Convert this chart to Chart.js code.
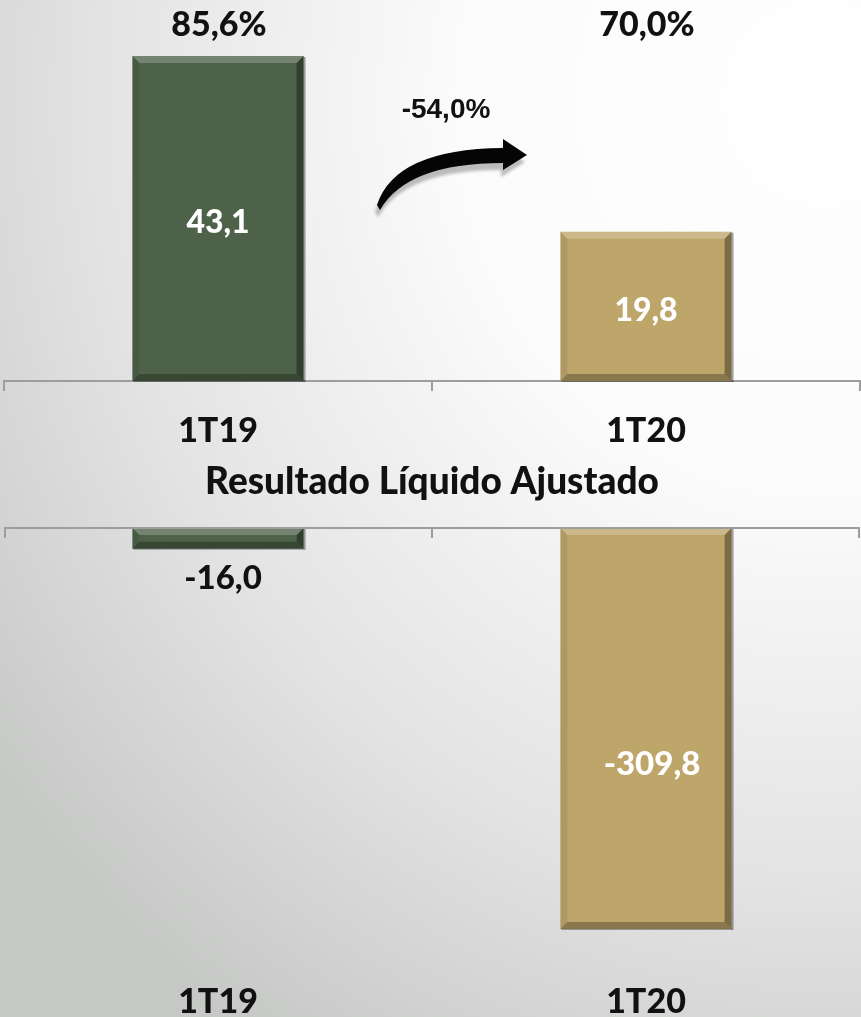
<!DOCTYPE html>
<html>
<head>
<meta charset="utf-8">
<script src="https://cdn.jsdelivr.net/npm/chart.js@4.4.0/dist/chart.umd.min.js"></script>
<style>
  html, body { margin: 0; padding: 0; }
  body {
    width: 861px; height: 1017px; overflow: hidden; position: relative;
    background: radial-gradient(ellipse 120% 110% at 95% 10%, #ffffff 0%, #fbfbfb 35%, #e2e3e2 70%, #c6c8c6 100%);
  }
  .panel { position: absolute; left: 0; width: 861px; }
  #top-wrap { top: 0; height: 505px; }
  #bottom-wrap { top: 505px; height: 512px; }
</style>
</head>
<body>
<div class="panel" id="top-wrap"><canvas id="top-chart" width="861" height="505"></canvas></div>
<div class="panel" id="bottom-wrap"><canvas id="bottom-chart" width="861" height="512"></canvas></div>
<script>
// chart data
const categories = ['1T19', '1T20'];
const topValues = [43.1, 19.8];
const topPercents = ['85,6%', '70,0%'];
const bottomValues = [-16.0, -309.8];
const changeLabel = '-54,0%';
const chartTitle = 'Resultado Líquido Ajustado';
const barColors = ['#4e6249', '#bea66b'];

const gothic = 'Lato, "DejaVu Sans", sans-serif';
const heavy = '900';
const axisGray = '#9d9d9d';

Chart.defaults.animation = false;
Chart.defaults.responsive = false;

function fmt(v) {
  return v.toFixed(1).replace('.', ',');
}

// draw the bevelled look on each bar
const bevelPlugin = {
  id: 'bevel',
  afterDatasetsDraw(chart) {
    const ctx = chart.ctx;
    chart.getDatasetMeta(0).data.forEach(bar => {
      const l = bar.x - bar.width / 2, r = bar.x + bar.width / 2;
      const t = Math.min(bar.y, bar.base), b = Math.max(bar.y, bar.base);
      const s = Math.min(7, (b - t) / 3);
      const quad = (pts, fill) => {
        ctx.beginPath();
        ctx.moveTo(pts[0][0], pts[0][1]);
        for (let i = 1; i < pts.length; i++) ctx.lineTo(pts[i][0], pts[i][1]);
        ctx.closePath();
        ctx.fillStyle = fill;
        ctx.fill();
      };
      ctx.save();
      quad([[l, t], [r, t], [r - s, t + s], [l + s, t + s]], 'rgba(255,255,255,0.22)');
      quad([[r, t], [r, b], [r - s, b - s], [r - s, t + s]], 'rgba(0,0,0,0.35)');
      quad([[l, b], [r, b], [r - s, b - s], [l + s, b - s]], 'rgba(0,0,0,0.28)');
      quad([[l, t], [l, b], [l + s, b - s], [l + s, t + s]], 'rgba(0,0,0,0.08)');
      ctx.fillStyle = 'rgba(0,0,0,0.35)';
      ctx.fillRect(r, t + 1, 2, b - t);
      ctx.fillRect(l + 1, b, r - l, 1);
      ctx.restore();
    });
  }
};

// labels for the upper chart
const topLabelsPlugin = {
  id: 'topLabels',
  afterDatasetsDraw(chart) {
    const ctx = chart.ctx;
    const area = chart.chartArea;
    const bars = chart.getDatasetMeta(0).data;
    ctx.save();
    ctx.textAlign = 'center';
    ctx.textBaseline = 'middle';
    bars.forEach((bar, i) => {
      ctx.fillStyle = '#111';
      ctx.font = heavy + ' 34px ' + gothic;
      ctx.fillText(topPercents[i], bar.x + 1, area.top + 21);
      ctx.fillStyle = '#fff';
      ctx.font = heavy + ' 32px ' + gothic;
      ctx.fillText(fmt(topValues[i]), bar.x, (bar.y + bar.base) / 2 + 4);
    });

    // change arrow between the two bars
    const mid = (bars[0].x + bars[1].x) / 2;
    ctx.fillStyle = '#111';
    ctx.font = 'bold 28px "Liberation Sans", Arial, sans-serif';
    ctx.fillText(changeLabel, mid + 14, area.top + 106);

    const ox = mid - 55, oy = area.top + 201;
    const arrow = (dx, dy, color) => {
      ctx.beginPath();
      ctx.moveTo(ox + dx, oy + dy);
      ctx.quadraticCurveTo(ox + 18 + dx, oy - 56 + dy, ox + 126 + dx, oy - 57 + dy);
      ctx.lineTo(ox + 126 + dx, oy - 66 + dy);
      ctx.lineTo(ox + 150 + dx, oy - 50 + dy);
      ctx.lineTo(ox + 126 + dx, oy - 35 + dy);
      ctx.lineTo(ox + 126 + dx, oy - 42 + dy);
      ctx.quadraticCurveTo(ox + 30 + dx, oy - 42 + dy, ox + 3 + dx, oy + 5 + dy);
      ctx.closePath();
      ctx.fillStyle = color;
      ctx.fill();
    };
    ctx.filter = 'blur(1.5px)';
    arrow(-2, 7, 'rgba(0,0,0,0.25)');
    ctx.filter = 'blur(0.6px)';
    arrow(0, 0, '#050505');
    ctx.restore();
  }
};

// labels and zero line for the lower chart
const bottomLabelsPlugin = {
  id: 'bottomLabels',
  afterDatasetsDraw(chart) {
    const ctx = chart.ctx;
    const area = chart.chartArea;
    const xs = chart.scales.x, ys = chart.scales.y;
    const bars = chart.getDatasetMeta(0).data;
    const zero = ys.getPixelForValue(0);
    ctx.save();
    ctx.strokeStyle = axisGray;
    ctx.lineWidth = 2;
    ctx.beginPath();
    ctx.moveTo(area.left, zero);
    ctx.lineTo(area.right, zero);
    const mid = (xs.getPixelForValue(0) + xs.getPixelForValue(1)) / 2;
    [area.left + 1, mid, area.right - 1].forEach(x => {
      ctx.moveTo(x, zero);
      ctx.lineTo(x, zero + 10);
    });
    ctx.stroke();

    ctx.textAlign = 'center';
    ctx.textBaseline = 'middle';
    ctx.font = heavy + ' 33px ' + gothic;
    // small bar: label below, big bar: label inside
    ctx.fillStyle = '#111';
    ctx.fillText(fmt(bottomValues[0]), bars[0].x + 5, bars[0].y + 30);
    ctx.fillStyle = '#fff';
    ctx.fillText(fmt(bottomValues[1]), bars[1].x + 6, (bars[1].y + bars[1].base) / 2 + 36);
    ctx.restore();
  }
};

new Chart(document.getElementById('top-chart'), {
  type: 'bar',
  data: {
    labels: categories,
    datasets: [{
      data: topValues,
      backgroundColor: barColors,
      borderWidth: 0,
      categoryPercentage: 1,
      barPercentage: 0.4
    }]
  },
  options: {
    layout: { padding: { left: 4, right: 1, top: 4, bottom: 0 } },
    plugins: {
      legend: { display: false },
      tooltip: { enabled: false },
      title: {
        display: true,
        position: 'bottom',
        text: chartTitle,
        color: '#111',
        font: { family: gothic, size: 37, weight: heavy, lineHeight: 1.2 },
        padding: { top: 0, bottom: 1 }
      }
    },
    scales: {
      y: { display: false, min: 0, max: 50 },
      x: {
        afterFit(scale) { scale.height = 78.6; },
        grid: { offset: true, drawOnChartArea: false, drawTicks: true, tickLength: 10, color: axisGray, lineWidth: 2 },
        border: { color: axisGray, width: 2 },
        ticks: { color: '#111', padding: 20, font: { family: gothic, size: 34, weight: heavy, lineHeight: 1.2 } }
      }
    }
  },
  plugins: [bevelPlugin, topLabelsPlugin]
});

new Chart(document.getElementById('bottom-chart'), {
  type: 'bar',
  data: {
    labels: categories,
    datasets: [{
      data: bottomValues,
      backgroundColor: barColors,
      borderWidth: 0,
      categoryPercentage: 1,
      barPercentage: 0.4
    }]
  },
  options: {
    layout: { padding: { left: 4, right: 1, top: 23, bottom: 0 } },
    plugins: {
      legend: { display: false },
      tooltip: { enabled: false }
    },
    scales: {
      y: { display: false, min: -340, max: 0 },
      x: {
        afterFit(scale) { scale.height = 49; },
        grid: { display: false },
        border: { display: false },
        ticks: { color: '#111', padding: 6, font: { family: gothic, size: 34, weight: heavy, lineHeight: 1.2 } }
      }
    }
  },
  plugins: [bevelPlugin, bottomLabelsPlugin]
});
</script>
</body>
</html>
